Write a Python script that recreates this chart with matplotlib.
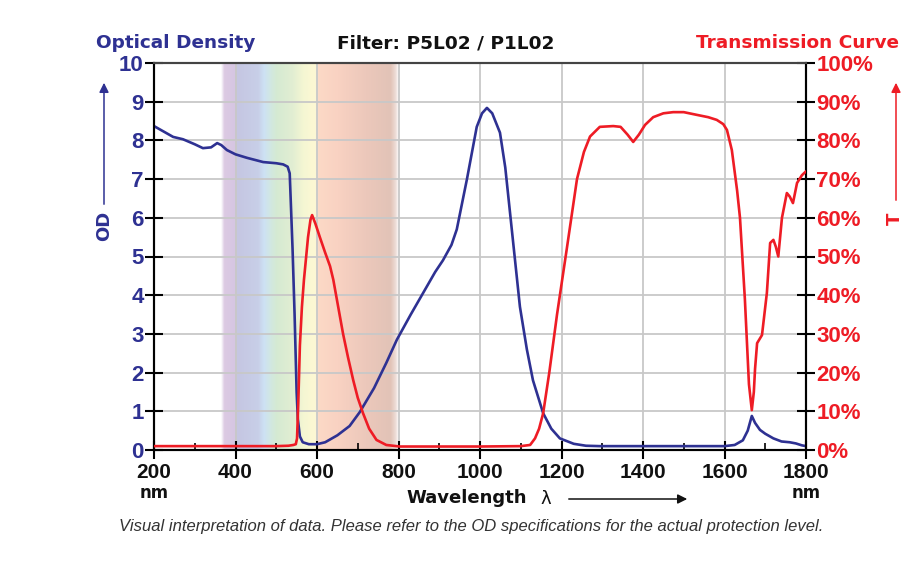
import matplotlib
matplotlib.use('Agg')
import matplotlib.pyplot as plt
from matplotlib.patches import FancyArrowPatch
import numpy as np

# optical density curve (blue)
od_nm = [200, 247, 271, 300, 320, 340, 355, 365, 379, 400, 428, 468, 500, 517, 528, 533,
         535, 540, 545, 550, 553, 558, 565, 580, 600, 620, 650, 680, 705, 740, 770, 796,
         830, 860, 890, 909, 930, 943, 968, 992, 1005, 1017, 1030, 1049, 1062, 1074, 1086,
         1098, 1115, 1130, 1155, 1175, 1196, 1230, 1260, 1294, 1400, 1500, 1600, 1625, 1645,
         1657, 1667, 1675, 1687, 1700, 1720, 1740, 1760, 1775, 1790, 1800]
od = [8.37, 8.09, 8.03, 7.9, 7.8, 7.82, 7.93, 7.88, 7.75, 7.64, 7.55, 7.44, 7.41, 7.38, 7.32, 7.15,
      6.6, 5.2, 3.5, 1.5, 0.8, 0.35, 0.2, 0.15, 0.15, 0.2, 0.38, 0.62, 0.98, 1.6, 2.25, 2.85,
      3.5, 4.05, 4.6, 4.9, 5.3, 5.7, 7.0, 8.35, 8.7, 8.84, 8.7, 8.2, 7.3, 6.1, 4.9,
      3.7, 2.6, 1.8, 0.95, 0.55, 0.3, 0.16, 0.11, 0.1, 0.1, 0.1, 0.1, 0.13, 0.25,
      0.5, 0.88, 0.7, 0.52, 0.42, 0.3, 0.22, 0.2, 0.17, 0.12, 0.1]

# transmission curve (red), percent
t_nm = [200, 300, 400, 500, 530, 542, 548, 551, 554, 558, 563, 568, 578, 584, 588, 596,
        607, 620, 632, 640, 652, 664, 676, 689, 700, 713, 728, 746, 770, 803, 900, 1000,
        1100, 1123, 1135, 1145, 1155, 1170, 1189, 1213, 1238, 1255, 1270, 1294, 1327, 1345,
        1362, 1376, 1390, 1405, 1425, 1450, 1474, 1500, 1532, 1560, 1581, 1597, 1606, 1618,
        1631, 1638, 1650, 1660, 1667, 1672, 1675, 1680, 1692, 1704, 1712, 1720, 1726, 1732,
        1741, 1753, 1760, 1768, 1778, 1790, 1800]
t = [1, 1, 1, 1, 1.1, 1.3, 1.5, 3, 12, 27, 37, 44, 55, 59.5, 60.7, 58.5,
     55, 51, 47.5, 44, 37, 30, 24, 18, 13.5, 9.5, 5.5, 2.6, 1.3, 0.9, 0.9, 0.9,
     1, 1.3, 3, 5.5, 9.5, 20, 35, 52, 70, 77, 81, 83.5, 83.7, 83.5,
     81.5, 79.6, 81.5, 84, 86, 87, 87.3, 87.3, 86.6, 86, 85.3, 84.2, 82.7, 77.5,
     67, 60, 39, 17, 10.3, 15, 21, 27.6, 29.7, 40.6, 53.5, 54.3, 52.5, 50,
     60, 66.4, 65.5, 63.8, 69, 71, 72]

x_ticks = [200, 400, 600, 800, 1000, 1200, 1400, 1600, 1800]
od_ticks = list(range(0, 11))
t_ticks = list(range(0, 101, 10))
t_labels = [f'{v}%' for v in t_ticks]

# visible spectrum band colour stops
band_nm = [364, 372, 398, 404, 455, 470, 488, 500, 540, 565, 588, 599, 602, 650, 720, 780, 792, 800]
band_rgb = ['#ffffff', '#dccae3', '#d6c6e2', '#c5c6e2', '#c8cfe8', '#cde2f4', '#d2e8df',
            '#d5ead3', '#e2eed2', '#f4f6d3', '#fcf8d3', '#fcf6d5', '#fcd9c6', '#f9d2c2',
            '#ecc8bb', '#e2c3b7', '#eddcd6', '#ffffff']

NAVY = '#2e3192'
RED = '#ee1c25'
W, H = 923, 562


def fx(px):
  return px / W


def fy(py):
  return 1 - py / H


fig = plt.figure(figsize=(W / 100, H / 100), dpi=100)
ax = fig.add_axes([fx(154), fy(450), (806 - 154) / W, (450 - 63) / H])
ax2 = ax.twinx()

# spectrum band
xs = np.linspace(band_nm[0], band_nm[-1], 600)
rgb = np.array([matplotlib.colors.to_rgb(c) for c in band_rgb])
img = np.stack([np.interp(xs, band_nm, rgb[:, k]) for k in range(3)], axis=-1)[None, :, :]
ax.imshow(img, extent=[band_nm[0], band_nm[-1], 0, 10], aspect='auto', zorder=0,
          interpolation='bilinear')

ax.set_axisbelow(True)
ax.grid(True, which='major', color='#c8c8c8', linewidth=1.3)

ax.plot(od_nm, od, color=NAVY, linewidth=1.9, zorder=3, solid_capstyle='round')
ax2.plot(t_nm, t, color=RED, linewidth=1.9, zorder=3, solid_capstyle='round')

ax.set_xlim(200, 1800)
ax.set_ylim(0, 10)
ax2.set_ylim(0, 100)

ax.set_xticks(x_ticks)
ax.set_xticks(range(300, 1800, 200), minor=True)
ax.set_yticks(od_ticks)
ax2.set_yticks(t_ticks)
ax2.set_yticklabels(t_labels)

tick_font = dict(family='Liberation Sans', weight='bold')
for lab in ax.get_xticklabels():
  lab.set(**tick_font, size=15, color='#111111')
for lab in ax.get_yticklabels():
  lab.set(**tick_font, size=16, color=NAVY)
for lab in ax2.get_yticklabels():
  lab.set(**tick_font, size=16, color=RED)

ax.tick_params(axis='both', which='major', direction='inout', length=13, width=1.5, color='black')
ax.tick_params(axis='x', which='major', pad=3)
ax.tick_params(axis='y', which='major', pad=1)
ax.tick_params(axis='x', which='minor', direction='in', length=5, width=1.2, color='black')
ax2.tick_params(axis='y', which='major', direction='inout', length=13, width=1.5, color='black', pad=1)

for a in (ax, ax2):
  for side in ('left', 'right', 'bottom'):
    a.spines[side].set_color('black')
    a.spines[side].set_linewidth(1.5)
  a.spines['top'].set_color('#444444')
  a.spines['top'].set_linewidth(1.5)

# header texts
fig.text(fx(96), fy(43), 'Optical Density', color=NAVY, fontsize=13.3, weight='bold',
         ha='left', va='center')
fig.text(fx(446), fy(43), 'Filter: P5L02 / P1L02', color='#111111', fontsize=13.3,
         weight='bold', ha='center', va='center')
fig.text(fx(899), fy(43), 'Transmission Curve', color=RED, fontsize=13.3, weight='bold',
         ha='right', va='center')

# axis names
fig.text(fx(104), fy(226), 'OD', color=NAVY, fontsize=13, weight='bold', rotation=90,
         ha='center', va='center')
fig.text(fx(895), fy(219), 'T', color=RED, fontsize=13, weight='bold', rotation=90,
         ha='center', va='center')
fig.add_artist(FancyArrowPatch((fx(104), fy(207)), (fx(104), fy(80)), transform=fig.transFigure,
                               arrowstyle='-|>', mutation_scale=14, color=NAVY, lw=1.1))
fig.add_artist(FancyArrowPatch((fx(896), fy(203)), (fx(896), fy(80)), transform=fig.transFigure,
                               arrowstyle='-|>', mutation_scale=14, color=RED, lw=1.1))

# bottom labels
fig.text(fx(154), fy(493), 'nm', color='#111111', fontsize=12, weight='bold', ha='center', va='center')
fig.text(fx(806), fy(493), 'nm', color='#111111', fontsize=12, weight='bold', ha='center', va='center')
fig.text(fx(527), fy(498), 'Wavelength', color='#111111', fontsize=13, weight='bold',
         ha='right', va='center')
fig.text(fx(546), fy(499), 'λ', color='#111111', fontsize=13, ha='center', va='center')
fig.add_artist(FancyArrowPatch((fx(566), fy(499)), (fx(690), fy(499)), transform=fig.transFigure,
                               arrowstyle='-|>', mutation_scale=14, color='#111111', lw=1.1))

fig.text(fx(471), fy(527),
         'Visual interpretation of data. Please refer to the OD specifications for the actual protection level.',
         color='#333333', fontsize=12, style='italic', family='Liberation Sans',
         ha='center', va='center')

fig.savefig('out.png', dpi=100)
